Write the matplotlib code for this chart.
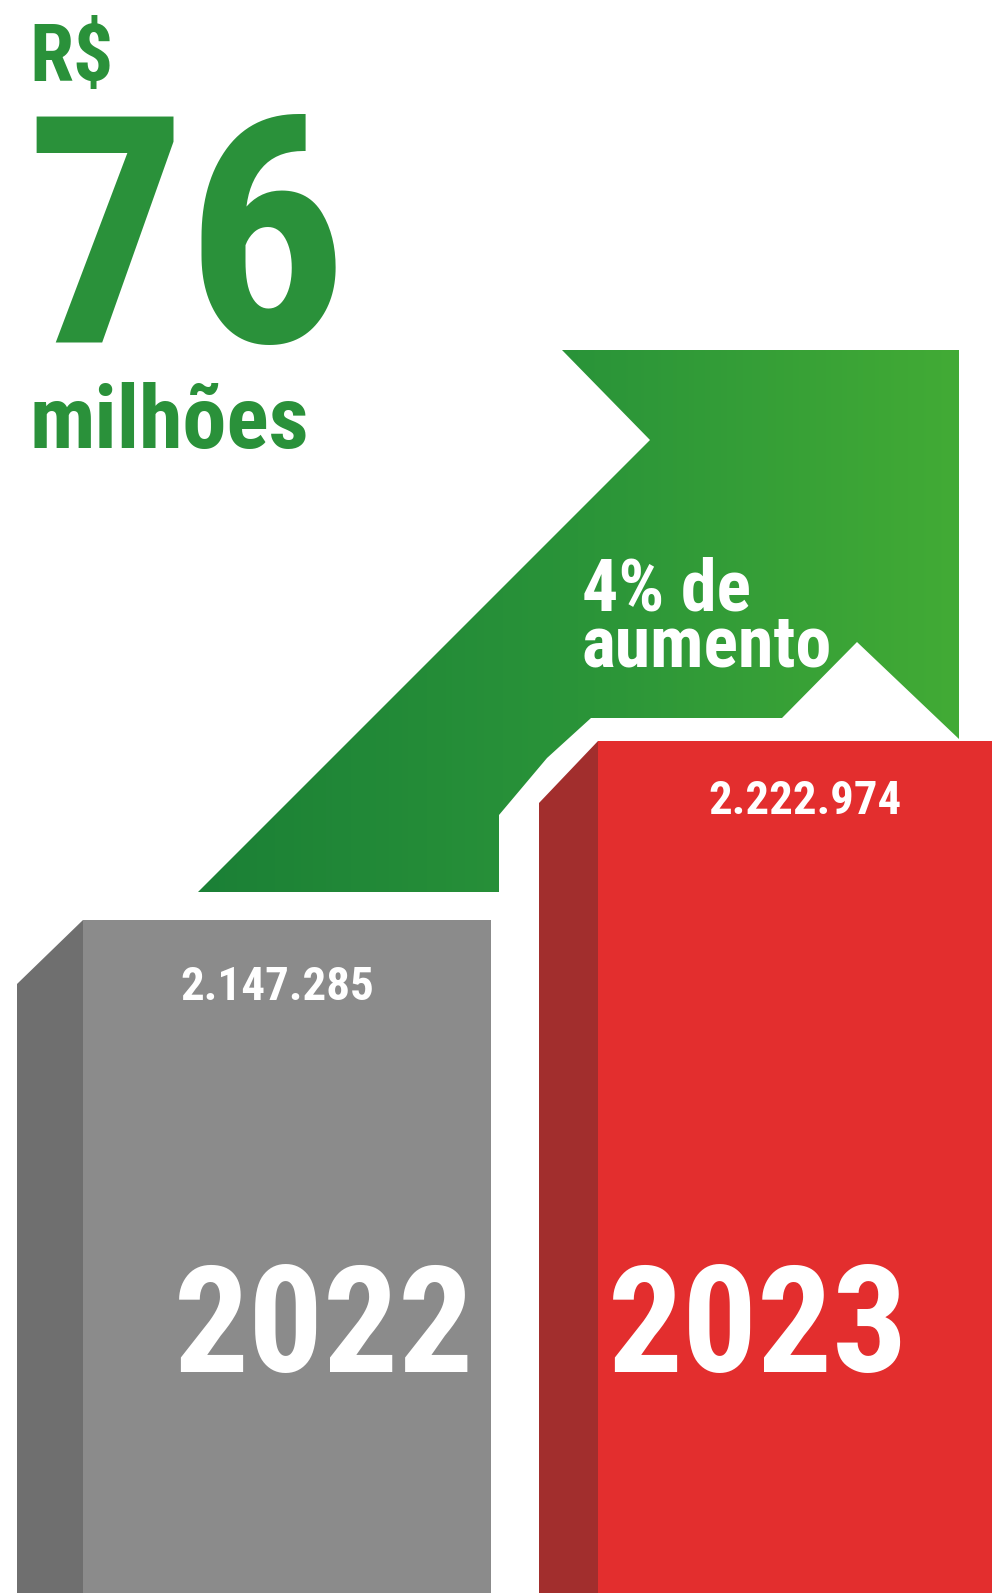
import numpy as np
import matplotlib
matplotlib.use("Agg")
import matplotlib.pyplot as plt
from matplotlib.patches import Polygon
from matplotlib.colors import LinearSegmentedColormap
from matplotlib.font_manager import FontProperties
from matplotlib.textpath import TextPath

# ---- data ----
years = ["2022", "2023"]
values = [2147285, 2222974]
value_labels = ["2.147.285", "2.222.974"]
total_label = "76"
currency = "R$"
unit = "milhões"
growth_lines = ["4% de", "aumento"]

W, H = 992, 1593
fig = plt.figure(figsize=(W / 100, H / 100), dpi=100)
ax = fig.add_axes([0, 0, 1, 1])
ax.set_xlim(0, W)
ax.set_ylim(H, 0)
ax.axis("off")

FONT = ["Roboto Condensed", "Open Sans Condensed", "DejaVu Sans Condensed",
        "Liberation Sans Narrow", "DejaVu Sans"]
GREEN_TXT = "#2a913a"


def extents(s):
    fp = FontProperties(family=FONT, weight="bold", stretch="condensed", size=100)
    return TextPath((0, 0), s, prop=fp).get_extents()


def fit_size(s, target_h, max_w):
    ext = extents(s)
    # ink size in px at fontsize f (pt) with dpi 100 is ext * f / 100 * 100 / 72
    return min(72 * target_h / ext.y1, 72 * max_w / ext.width), ext


def put(s, x, y, color, f, align="left", z=3, **kw):
    ext = extents(s.split("\n")[0])
    k = f / 72.0
    if align == "left":
        xt = x - ext.x0 * k
    else:
        xt = x - (ext.x0 + ext.width / 2) * k
    ax.text(xt, y, s, color=color, fontsize=f, fontweight="bold",
            fontstretch="condensed", family=FONT, ha="left", zorder=z, **kw)


def put_fit(s, x, base, target_h, max_w, color, align="left"):
    f, _ = fit_size(s, target_h, max_w)
    put(s, x, base, color, f, align=align, va="baseline")

# ---- bars (layout) ----
bar_front_left = [83, 598]
bar_front_right = [491, 992]
bar_top = [920, 741]
bar_side_left = [17, 539]
bar_side_drop = [64, 62]
front_colors = ["#8b8b8b", "#e32e2e"]
side_colors = ["#6f6f6f", "#a22e2d"]

for i in range(len(years)):
    fl, fr, t = bar_front_left[i], bar_front_right[i], bar_top[i]
    sl = bar_side_left[i]
    ax.add_patch(Polygon([(sl, t + bar_side_drop[i]), (fl, t), (fl, H), (sl, H)],
                         closed=True, facecolor=side_colors[i], edgecolor="none"))
    ax.add_patch(Polygon([(fl, t), (fr, t), (fr, H), (fl, H)],
                         closed=True, facecolor=front_colors[i], edgecolor="none"))

# ---- arrow ----
arrow_pts = [(562, 350), (959, 350), (959, 739), (857, 642), (782, 718),
             (591, 718), (547, 758), (499, 815), (499, 892), (198, 892), (650, 440)]
arrow = Polygon(arrow_pts, closed=True, facecolor="none", edgecolor="none")
ax.add_patch(arrow)
cmap = LinearSegmentedColormap.from_list("g", ["#1b8036", "#2a9439", "#42ab35"])
grad = np.linspace(0, 1, 256).reshape(1, -1)
im = ax.imshow(grad, cmap=cmap, extent=(198, 959, 892, 350), aspect="auto", zorder=1)
im.set_clip_path(arrow)
ax.set_xlim(0, W)
ax.set_ylim(H, 0)

# ---- texts ----
put_fit(currency, 34, 81, 67, 76, GREEN_TXT)
put_fit(total_label, 36, 342, 240, 300, GREEN_TXT)
put_fit(unit, 34, 448, 70, 272, GREEN_TXT)

# growth label: two lines in one text object, baselines at 610 and 666 px
f1, _ = fit_size(growth_lines[0], 58, 200)
f2, _ = fit_size(growth_lines[1], 49, 245)
fg = min(f1, f2)
k = fg / 72.0
lp = extents("lp")
first = extents(growth_lines[0])
base1, base2 = 610, 666
asc = max(lp.y1, first.y1) * k
ls = ((base2 - base1) - (-lp.y0) * k) / (lp.y1 * k)
put("\n".join(growth_lines), 584, base1 - asc, "white", fg, va="top", linespacing=ls)

val_cx = [277, 805]
val_base = [1000, 814]
year_cx = [324, 757]
for i in range(len(years)):
    put_fit(value_labels[i], val_cx[i], val_base[i], 39, 190, "white", align="center")
    put_fit(years[i], year_cx[i], 1372, 107, 310, "white", align="center")

fig.savefig("out.png", dpi=100, facecolor="white")
